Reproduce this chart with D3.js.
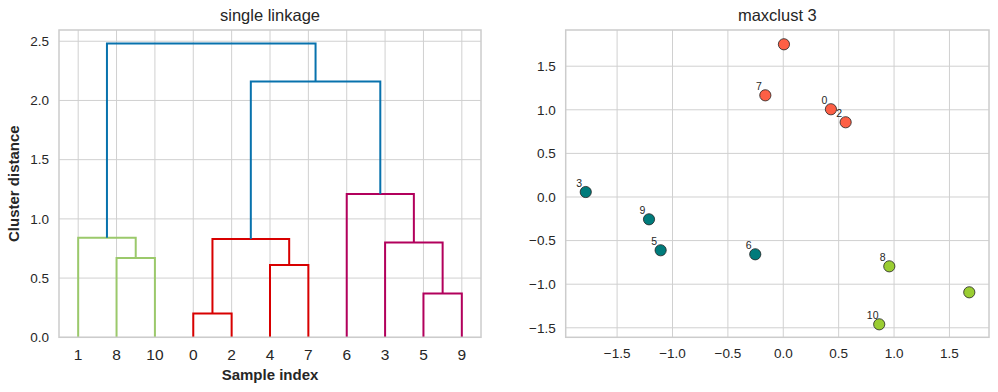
<!DOCTYPE html>
<html><head><meta charset="utf-8">
<script src="https://cdn.jsdelivr.net/npm/d3@7"></script>
<style>
body{margin:0;background:#fff;}
text{font-family:"Liberation Sans",Arial,sans-serif;fill:#262626;}
</style></head><body>
<svg id="chart" width="998" height="392"></svg>
<script>
// ---------- Dendrogram data ----------
const leafLabels = ["1","8","10","0","2","4","7","6","3","5","9"];
// merges m0..m9 : children (leaf label or merge id), height, cluster colour key
const mergeLeft   = ["8","0","4","5","1","m1","3","6","m5","m4"];
const mergeRight  = ["10","2","7","9","m0","m2","m3","m6","m7","m8"];
const mergeHeight = [0.67,0.20,0.61,0.37,0.84,0.83,0.80,1.21,2.16,2.48];
const mergeGroup  = ["g","r","r","m","g","r","m","m","b","b"];
const distTicks = [0,0.5,1.0,1.5,2.0,2.5];
const groupColor = {g:"#9bc96b", r:"#d80000", m:"#b2005c", b:"#0872ad"};

// ---------- Scatter data ----------
const pointX = [0.430,1.679,0.563,-1.783,0.006,-1.107,-0.253,-0.162,0.957,-1.212,0.866];
const pointY = [1.006,-1.093,0.857,0.057,1.751,-0.611,-0.657,1.166,-0.795,-0.256,-1.460];
const pointCluster = [1,3,1,2,1,2,2,1,3,2,3];
const pointLabel = ["0","","2","3","","5","6","7","8","9","10"];
const clusterColor = {1:"#fd5f45", 2:"#007b7b", 3:"#9acd32"};
const scatterTicks = [-1.5,-1.0,-0.5,0.0,0.5,1.0,1.5];

const svg = d3.select("#chart");
svg.append("rect").attr("width",998).attr("height",392).attr("fill","#fff");
const gridC = "#d0d0d0", frameC = "#cccccc";
const fmt = d => d3.format(".1f")(d).replace("-", "\u2212");

// ================= LEFT: dendrogram =================
const L = {x0:59, x1:481, y0:30, y1:337.3};
const xD = d3.scaleLinear().domain([0, leafLabels.length*10]).range([L.x0, L.x1]);
const yD = d3.scaleLinear().domain([0, 2.595]).range([L.y1, L.y0]);
const gL = svg.append("g");
// grid
gL.selectAll(".hg").data(distTicks).join("line")
  .attr("x1",L.x0).attr("x2",L.x1).attr("y1",d=>yD(d)).attr("y2",d=>yD(d))
  .attr("stroke",gridC).attr("stroke-width",1);
gL.selectAll(".vg").data(leafLabels).join("line")
  .attr("x1",(d,i)=>xD(5+10*i)).attr("x2",(d,i)=>xD(5+10*i)).attr("y1",L.y0).attr("y2",L.y1)
  .attr("stroke",gridC).attr("stroke-width",1);
// compute node positions
const pos = {};
leafLabels.forEach((l,i)=>{ pos[l] = {x:5+10*i, h:0}; });
const links = [];
mergeLeft.forEach((a,i)=>{
  const A = pos[a], B = pos[mergeRight[i]], h = mergeHeight[i];
  links.push({pts:[[A.x,A.h],[A.x,h],[B.x,h],[B.x,B.h]], c:groupColor[mergeGroup[i]]});
  pos["m"+i] = {x:(A.x+B.x)/2, h:h};
});
const line = d3.line().x(d=>xD(d[0])).y(d=>yD(d[1]));
gL.selectAll(".lk").data(links).join("path")
  .attr("d",d=>line(d.pts)).attr("fill","none").attr("stroke",d=>d.c).attr("stroke-width",2);
// frame
gL.append("rect").attr("x",L.x0).attr("y",L.y0).attr("width",L.x1-L.x0).attr("height",L.y1-L.y0)
  .attr("fill","none").attr("stroke",frameC).attr("stroke-width",1.5);
// tick labels
gL.selectAll(".yt").data(distTicks).join("text")
  .attr("x",L.x0-10).attr("y",d=>yD(d)).attr("dy","0.35em").attr("text-anchor","end")
  .attr("font-size",13.5).text(d=>fmt(d));
gL.selectAll(".xt").data(leafLabels).join("text")
  .attr("x",(d,i)=>xD(5+10*i)).attr("y",359.5).attr("text-anchor","middle")
  .attr("font-size",15.5).text(d=>d);
gL.append("text").attr("x",(L.x0+L.x1)/2).attr("y",21).attr("text-anchor","middle")
  .attr("font-size",16.5).text("single linkage");
gL.append("text").attr("x",(L.x0+L.x1)/2).attr("y",380).attr("text-anchor","middle")
  .attr("font-size",15).attr("font-weight","bold").text("Sample index");
gL.append("text").attr("transform",`translate(19,${(L.y0+L.y1)/2}) rotate(-90)`)
  .attr("text-anchor","middle").attr("font-size",15).attr("font-weight","bold").text("Cluster distance");

// ================= RIGHT: scatter =================
const R = {x0:565.7, x1:989, y0:30, y1:337.3};
const xS = d3.scaleLinear().domain([-1.964, 1.857]).range([R.x0, R.x1]);
const yS = d3.scaleLinear().domain([-1.609, 1.915]).range([R.y1, R.y0]);
const gR = svg.append("g");
gR.selectAll(".hg").data(scatterTicks).join("line")
  .attr("x1",R.x0).attr("x2",R.x1).attr("y1",d=>yS(d)).attr("y2",d=>yS(d))
  .attr("stroke",gridC).attr("stroke-width",1);
gR.selectAll(".vg").data(scatterTicks).join("line")
  .attr("x1",d=>xS(d)).attr("x2",d=>xS(d)).attr("y1",R.y0).attr("y2",R.y1)
  .attr("stroke",gridC).attr("stroke-width",1);
gR.append("rect").attr("x",R.x0).attr("y",R.y0).attr("width",R.x1-R.x0).attr("height",R.y1-R.y0)
  .attr("fill","none").attr("stroke",frameC).attr("stroke-width",1.5);
const idx = d3.range(pointX.length);
gR.selectAll(".pt").data(idx).join("circle")
  .attr("cx",i=>xS(pointX[i])).attr("cy",i=>yS(pointY[i])).attr("r",5.6)
  .attr("fill",i=>clusterColor[pointCluster[i]]).attr("stroke","#222").attr("stroke-width",0.8);
gR.selectAll(".pl").data(idx.filter(i=>pointLabel[i]!=="")).join("text")
  .attr("x",i=>xS(pointX[i])-6.5).attr("y",i=>yS(pointY[i])-5.5).attr("text-anchor","middle")
  .attr("font-size",10.5).attr("fill","#111").text(i=>pointLabel[i]);
gR.selectAll(".yt").data(scatterTicks).join("text")
  .attr("x",R.x0-10).attr("y",d=>yS(d)).attr("dy","0.35em").attr("text-anchor","end")
  .attr("font-size",13.5).text(d=>fmt(d));
gR.selectAll(".xt").data(scatterTicks).join("text")
  .attr("x",d=>xS(d)).attr("y",357.5).attr("text-anchor","middle")
  .attr("font-size",13.5).text(d=>fmt(d));
gR.append("text").attr("x",(R.x0+R.x1)/2).attr("y",21).attr("text-anchor","middle")
  .attr("font-size",16.5).text("maxclust 3");
</script></body></html>
